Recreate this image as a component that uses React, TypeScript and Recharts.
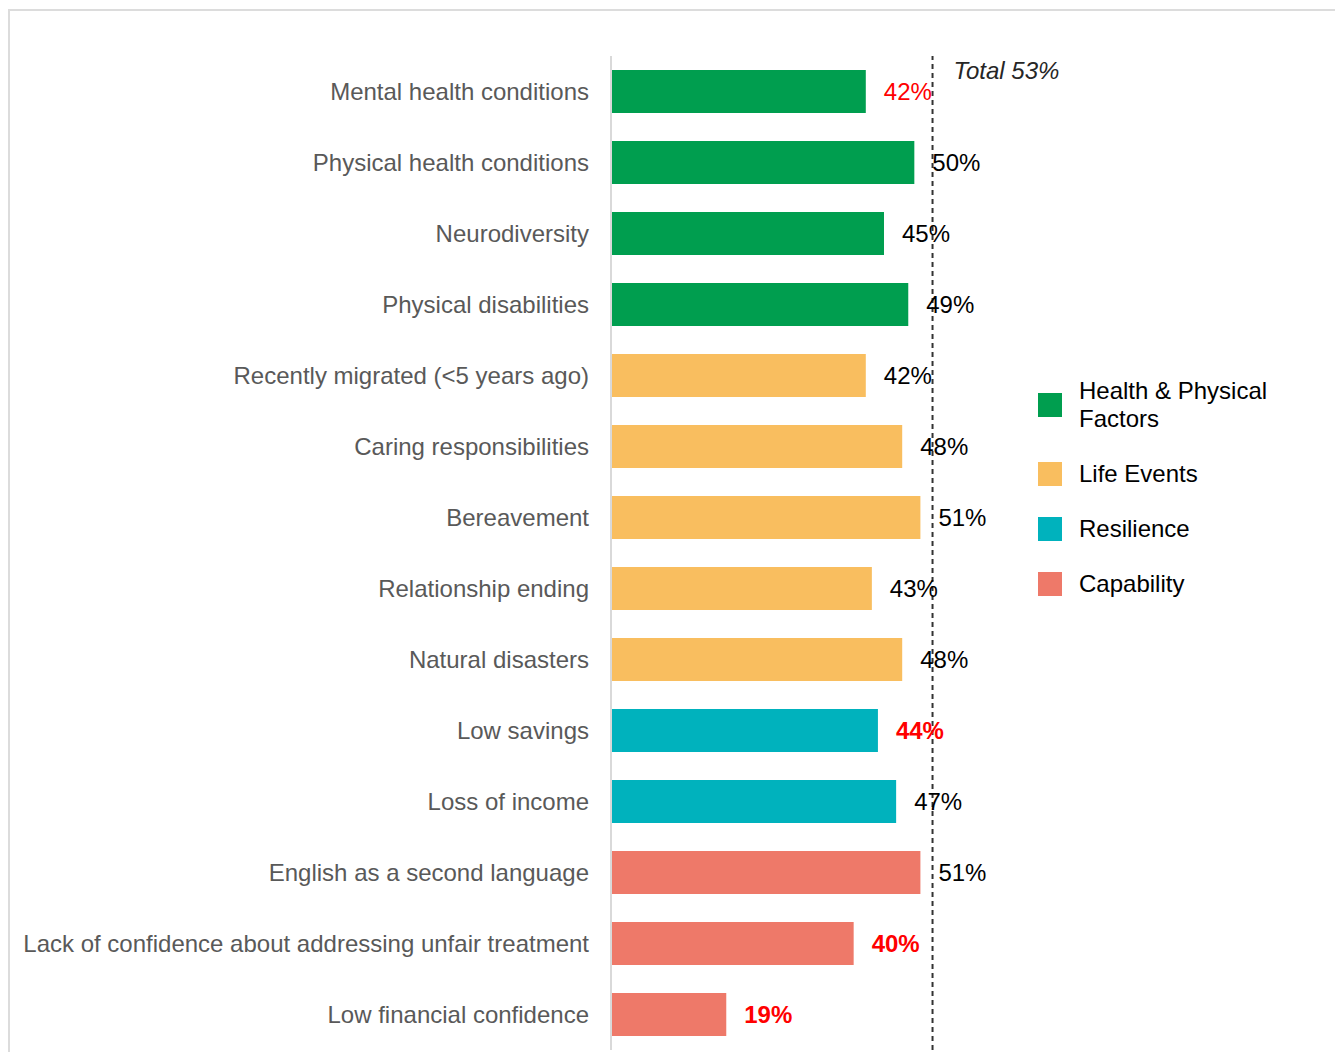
import { BarChart, Bar, XAxis, YAxis, Cell, LabelList, ReferenceLine } from 'recharts'

const categories = [
  'Mental health conditions',
  'Physical health conditions',
  'Neurodiversity',
  'Physical disabilities',
  'Recently migrated (<5 years ago)',
  'Caring responsibilities',
  'Bereavement',
  'Relationship ending',
  'Natural disasters',
  'Low savings',
  'Loss of income',
  'English as a second language',
  'Lack of confidence about addressing unfair treatment',
  'Low financial confidence',
]

const values = [42, 50, 45, 49, 42, 48, 51, 43, 48, 44, 47, 51, 40, 19]

const groupOf = [
  'Health & Physical Factors',
  'Health & Physical Factors',
  'Health & Physical Factors',
  'Health & Physical Factors',
  'Life Events',
  'Life Events',
  'Life Events',
  'Life Events',
  'Life Events',
  'Resilience',
  'Resilience',
  'Capability',
  'Capability',
  'Capability',
]

// difference vs total: none / lower / significantly lower
const significance = [
  'lower', 'none', 'none', 'none', 'none', 'none', 'none',
  'none', 'none', 'lowerSig', 'none', 'none', 'lowerSig', 'lowerSig',
]

const groups = ['Health & Physical Factors', 'Life Events', 'Resilience', 'Capability']
const totalValue = 53

const groupColors: Record<string, string> = {
  'Health & Physical Factors': '#009E4F',
  'Life Events': '#F9BE5F',
  Resilience: '#00B2BD',
  Capability: '#EE7969',
}

const FONT = '"Liberation Sans", Arial, sans-serif'

const chartData = categories.map((name, i) => ({
  name,
  value: values[i],
  group: groupOf[i],
  sig: significance[i],
}))

function ValueLabel(props: any) {
  const { x, y, width, height, value, index } = props
  const sig = chartData[index].sig
  return (
    <text
      x={x + width + 18}
      y={y + height / 2}
      dy="0.35em"
      fontSize={24}
      fontFamily={FONT}
      fontWeight={sig === 'lowerSig' ? 700 : 400}
      fill={sig === 'none' ? '#000000' : '#FF0000'}
    >
      {`${value}%`}
    </text>
  )
}

function TotalLabel(props: any) {
  const { viewBox } = props
  return (
    <text
      x={viewBox.x + 21}
      y={viewBox.y + 15}
      dy="0.35em"
      fontSize={24}
      fontStyle="italic"
      fontFamily={FONT}
      fill="#262626"
    >
      {`Total ${totalValue}%`}
    </text>
  )
}

function GroupLegend() {
  return (
    <div
      style={{
        position: 'absolute',
        left: 1028,
        top: 366,
        fontFamily: FONT,
        fontSize: 24,
        lineHeight: '28px',
        color: '#000',
      }}
    >
      {groups.map((g) => (
        <div key={g} style={{ display: 'flex', alignItems: 'center', marginBottom: 27 }}>
          <div style={{ width: 24, height: 24, background: groupColors[g], flexShrink: 0 }} />
          <div style={{ marginLeft: 17, width: 230 }}>{g}</div>
        </div>
      ))}
    </div>
  )
}

export default function App() {
  return (
    <div
      style={{
        position: 'relative',
        marginTop: 1,
        width: 1333,
        height: 1041,
        borderTop: '2px solid #dcdcdc',
        borderLeft: '2px solid #dcdcdc',
      }}
    >
      <BarChart
        width={1333}
        height={1041}
        data={chartData}
        layout="vertical"
        margin={{ top: 45, right: 368, bottom: 2, left: 0 }}
        barCategoryGap={28}
      >
        <XAxis type="number" domain={[0, 60]} hide />
        <YAxis
          type="category"
          dataKey="name"
          width={601}
          tickLine={false}
          tickSize={6}
          tickMargin={16}
          axisLine={{ stroke: '#d9d9d9', strokeWidth: 2 }}
          tick={{ fontSize: 24, fill: '#595959', fontFamily: FONT }}
          interval={0}
        />
        <Bar dataKey="value" barSize={43} isAnimationActive={false}>
          {chartData.map((d) => (
            <Cell key={d.name} fill={groupColors[d.group]} />
          ))}
          <LabelList dataKey="value" content={ValueLabel} />
        </Bar>
        <ReferenceLine
          x={totalValue}
          stroke="#333333"
          strokeWidth={2}
          strokeDasharray="5 4"
          label={TotalLabel}
          ifOverflow="visible"
        />
      </BarChart>
      <GroupLegend />
    </div>
  )
}
